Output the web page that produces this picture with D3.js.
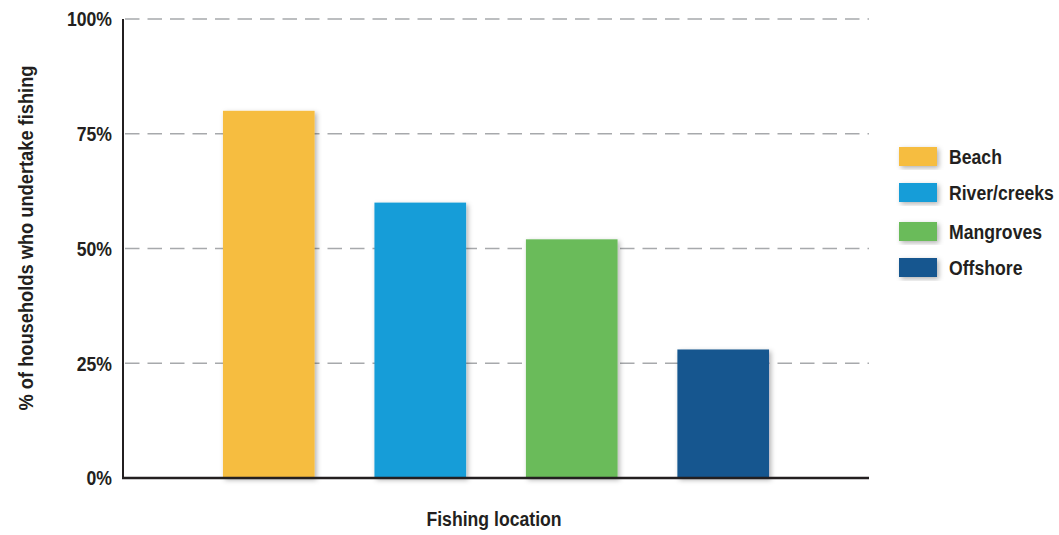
<!DOCTYPE html>
<html>
<head>
<meta charset="utf-8">
<script src="https://cdn.jsdelivr.net/npm/d3@7"></script>
<style>
  body { margin: 0; background: #fff; }
  svg text { font-family: "Liberation Sans Narrow", "Arial Narrow", "Liberation Sans", Arial, sans-serif; font-weight: bold; fill: #231F20; }
</style>
</head>
<body>
<svg id="chart" width="1059" height="535"></svg>
<script>
const categories = ["Beach", "River/creeks", "Mangroves", "Offshore"];
const values = [80, 60, 52, 28];
const colors = ["#F6BD41", "#159DD8", "#6ABB5A", "#12568F"];
const yTicks = [0, 25, 50, 75, 100];
const yTickLabels = ["0%", "25%", "50%", "75%", "100%"];
const xTitle = "Fishing location";
const yTitle = "% of households who undertake fishing";

(function () {
const svg = d3.select("#chart");
const mLeft = 123, mRight = 869, mTop = 19, mBottom = 478;
const squeeze = 0.84;

const defs = svg.append("defs");
const f = defs.append("filter").attr("id", "shadow").attr("x", "-20%").attr("y", "-20%").attr("width", "140%").attr("height", "140%");
f.append("feDropShadow").attr("dx", 2).attr("dy", 2).attr("stdDeviation", 2.5).attr("flood-color", "#000").attr("flood-opacity", 0.3);

const x = d3.scaleBand().domain(categories).range([mLeft, mRight]).paddingInner(0.395).paddingOuter(0.66);
const y = d3.scaleLinear().domain([0, 100]).range([mBottom, mTop]);

// gridlines
svg.append("g").selectAll("line").data(yTicks.filter(d => d > 0)).join("line")
  .attr("x1", mLeft + 2).attr("x2", mRight)
  .attr("y1", d => y(d)).attr("y2", d => y(d))
  .attr("stroke", "#A7A9AC").attr("stroke-width", 1.5)
  .attr("stroke-dasharray", "14.5,8");

// bars
svg.append("g").selectAll("rect").data(categories).join("rect")
  .attr("x", d => x(d)).attr("width", x.bandwidth())
  .attr("y", (d, i) => y(values[i])).attr("height", (d, i) => mBottom - y(values[i]))
  .attr("fill", (d, i) => colors[i])
  .attr("filter", "url(#shadow)");

// axes lines
svg.append("line").attr("x1", mLeft).attr("x2", mLeft).attr("y1", mTop).attr("y2", mBottom + 1)
  .attr("stroke", "#231F20").attr("stroke-width", 2);
svg.append("line").attr("x1", mLeft - 1).attr("x2", mRight).attr("y1", mBottom).attr("y2", mBottom)
  .attr("stroke", "#231F20").attr("stroke-width", 2.5);

// y tick labels
svg.append("g").selectAll("text").data(yTicks).join("text")
  .attr("transform", d => `translate(112,${y(d)}) scale(${squeeze},1)`)
  .attr("dy", "0.35em")
  .attr("text-anchor", "end")
  .attr("font-size", 21)
  .text((d, i) => yTickLabels[i]);

// axis titles
svg.append("text").attr("transform", `translate(494,526) scale(${squeeze},1)`)
  .attr("text-anchor", "middle").attr("font-size", 21).text(xTitle);
svg.append("text").attr("transform", `translate(33,238) rotate(-90) scale(0.87,1)`)
  .attr("text-anchor", "middle").attr("font-size", 21).text(yTitle);

// legend
const legendY = [147, 183, 222, 258];
const lg = svg.append("g").selectAll("g").data(categories).join("g")
  .attr("transform", (d, i) => `translate(899,${legendY[i]})`);
lg.append("rect").attr("width", 38).attr("height", 19).attr("fill", (d, i) => colors[i]).attr("filter", "url(#shadow)");
lg.append("text").attr("transform", `translate(50,9.5) scale(${squeeze},1)`).attr("dy", "0.36em").attr("font-size", 21).text(d => d);
})();
</script>
</body>
</html>
